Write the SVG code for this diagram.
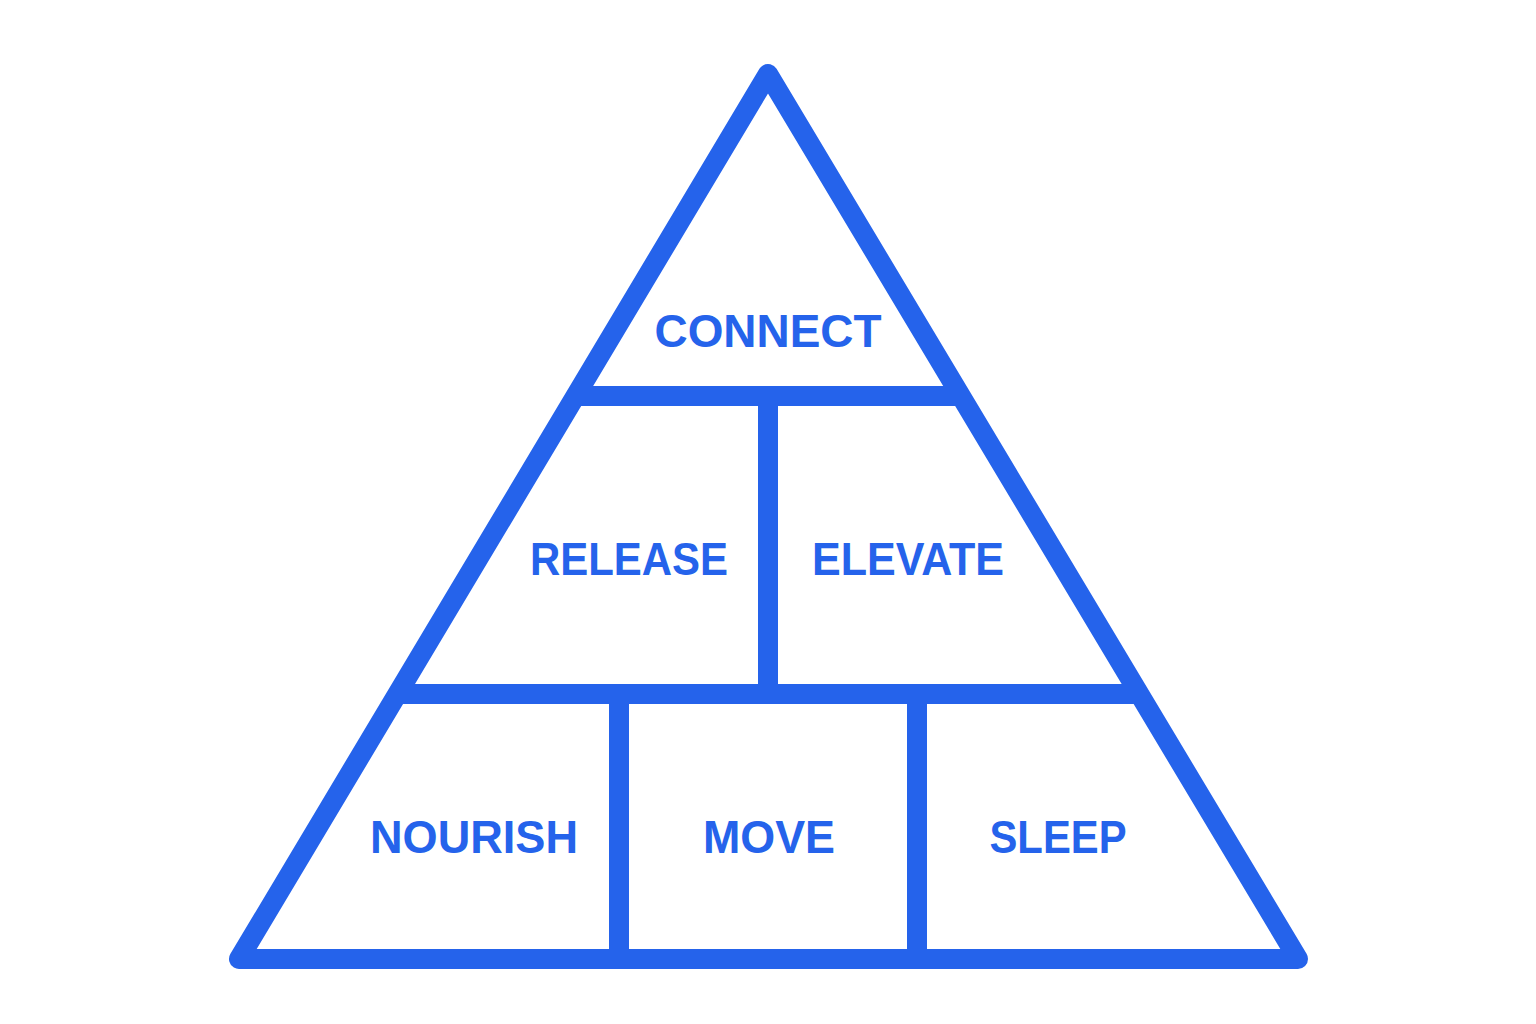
<svg xmlns="http://www.w3.org/2000/svg" width="1536" height="1024" viewBox="0 0 1536 1024">
<style>
.ln{stroke:#2563EB;stroke-width:20;fill:none;stroke-linejoin:round;stroke-linecap:round}
.dv{stroke:#2563EB;stroke-width:20;fill:none;stroke-linecap:butt}
.lb{font-family:"Liberation Sans",Arial,sans-serif;font-weight:bold;font-size:46px;fill:#2563EB;text-anchor:middle}
</style>
<rect width="1536" height="1024" fill="#ffffff"/>
<g id="pyramid">
<polygon class="ln" points="768,74 239,959 1298,959"/>
</g>
<g id="connectors">
<line class="dv" x1="575" y1="396" x2="961" y2="396"/>
<line class="dv" x1="397" y1="694" x2="1139" y2="694"/>
<line class="dv" x1="768" y1="396" x2="768" y2="694"/>
<line class="dv" x1="619" y1="694" x2="619" y2="959"/>
<line class="dv" x1="917" y1="694" x2="917" y2="959"/>
</g>
<g id="connect"><text class="lb" x="768" y="347" textLength="227" lengthAdjust="spacingAndGlyphs">CONNECT</text></g>
<g id="release"><text class="lb" x="629" y="575" textLength="198" lengthAdjust="spacingAndGlyphs">RELEASE</text></g>
<g id="elevate"><text class="lb" x="908" y="575" textLength="192" lengthAdjust="spacingAndGlyphs">ELEVATE</text></g>
<g id="nourish"><text class="lb" x="474" y="853" textLength="208" lengthAdjust="spacingAndGlyphs">NOURISH</text></g>
<g id="move"><text class="lb" x="769" y="853" textLength="132" lengthAdjust="spacingAndGlyphs">MOVE</text></g>
<g id="sleep"><text class="lb" x="1058" y="853" textLength="137" lengthAdjust="spacingAndGlyphs">SLEEP</text></g>
</svg>
